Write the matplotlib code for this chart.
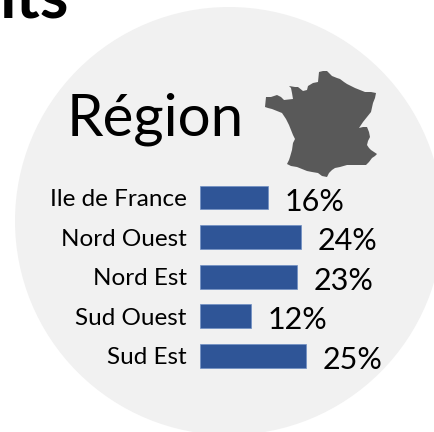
#!/usr/bin/env python3
"""Region breakdown bars on a grey disc with a France silhouette."""

import matplotlib

matplotlib.use("Agg")
import matplotlib.pyplot as plt
from matplotlib.patches import Circle, Polygon

W, H = 435, 432

regions = ["Ile de France", "Nord Ouest", "Nord Est", "Sud Ouest", "Sud Est"]
shares = [16, 24, 23, 12, 25]

# silhouette, in image pixels
france_x = [319, 323, 327, 329, 332, 337, 340, 344, 347, 355, 360, 365, 371, 376, 375, 373, 371, 367, 363, 359,
            363, 367, 369, 370, 368, 367, 369, 371, 377, 375, 372, 369, 366, 360, 353, 347, 340, 335, 332, 329,
            327, 322, 318, 312, 307, 302, 297, 291, 287, 289, 290, 292, 293, 295, 293, 291, 289, 286, 282, 277,
            272, 268, 265, 266, 271, 277, 281, 284, 293, 292, 291, 289, 295, 298, 303, 307, 308, 313, 318]
france_y = [72, 71, 71, 73, 76, 78, 79, 82, 84, 88, 90, 92, 92, 93, 98, 103, 112, 117, 122, 128,
            127, 127, 132, 137, 141, 145, 148, 150, 154, 156, 158, 162, 165, 165, 165, 165, 167, 168, 170, 173,
            177, 176, 173, 172, 171, 169, 167, 166, 164, 160, 157, 150, 143, 139, 135, 130, 125, 119, 113, 111,
            109, 108, 107, 97, 97, 95, 97, 100, 99, 93, 88, 86, 87, 87, 91, 90, 86, 83, 82]


def px_box(left, top, right, bottom):
    return [left / W, 1 - bottom / H, (right - left) / W, (bottom - top) / H]


def main():
    plt.rcParams["font.family"] = ["Lato", "DejaVu Sans"]
    fig = plt.figure(figsize=(W / 100, H / 100), dpi=100, facecolor="white")

    bg = fig.add_axes([0, 0, 1, 1])
    bg.set_xlim(0, W)
    bg.set_ylim(H, 0)
    bg.axis("off")
    bg.add_patch(Circle((229, 221), 214, color="#f1f1f1", lw=0))
    bg.add_patch(Polygon(list(zip(france_x, france_y)), closed=True, color="#595959", lw=0))
    bg.text(155, 135, "Région", fontsize=42, ha="center", va="baseline", color="black")
    bg.text(0, 17, "its", fontsize=47, fontweight="bold", ha="left", va="baseline", color="black")

    ax = fig.add_axes(px_box(200.5, 180, 435, 378))
    ax.patch.set_alpha(0)
    y = list(range(len(regions)))
    ax.barh(y, shares, height=0.6, color="#2f5597", edgecolor="#6f8fc4", linewidth=0.5)
    ax.set_xlim(0, 234.5 / 4.2)
    ax.set_ylim(len(regions) - 0.44, -0.44)
    ax.set_xticks([])
    ax.set_yticks(y, regions, fontsize=17.5)
    ax.tick_params(axis="y", length=0, pad=10)
    for s in ax.spines.values():
        s.set_visible(False)
    for i, v in zip(y, shares):
        ax.annotate(f"{v}%", (v, i), xytext=(12, -3), textcoords="offset points",
                    fontsize=22, va="center", ha="left", color="black")

    fig.savefig("out.png", dpi=100)
    plt.close(fig)


if __name__ == "__main__":
    main()
